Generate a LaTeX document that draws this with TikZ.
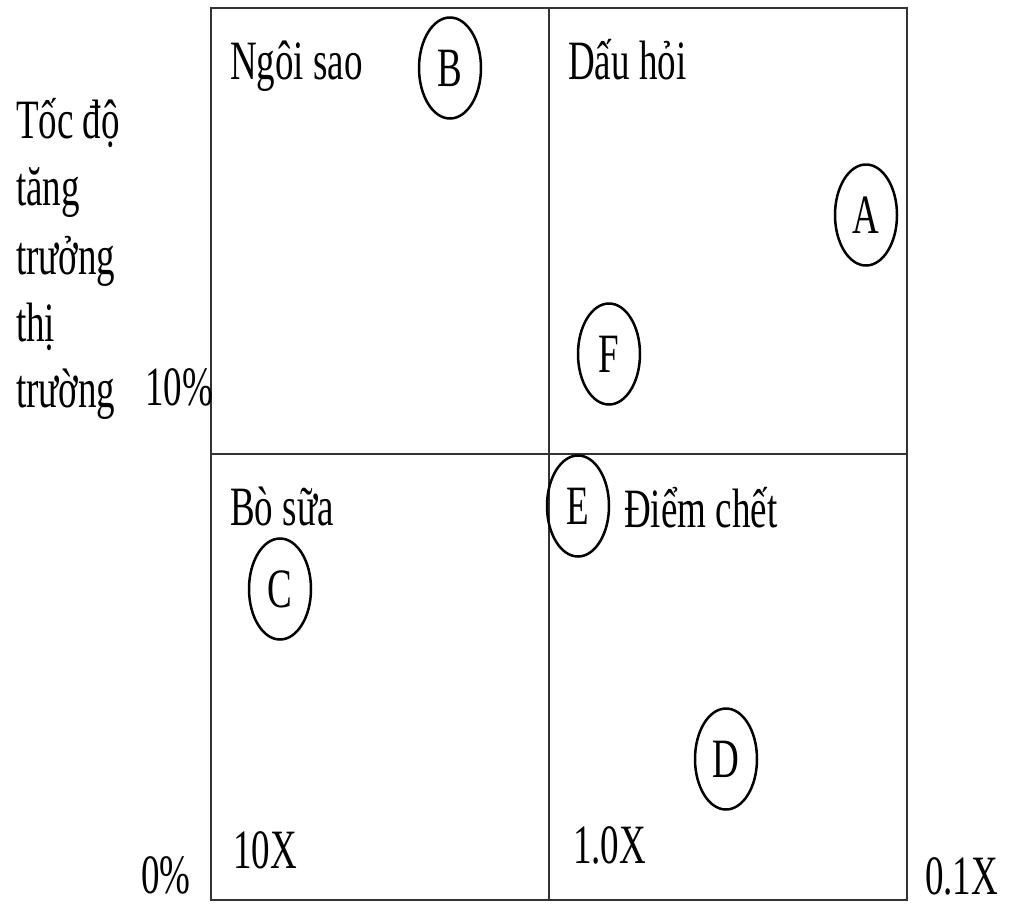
\documentclass[tikz,border=0pt]{standalone}
\usepackage{fontspec}
\usepackage{graphicx}
\setmainfont{Liberation Serif}
\usetikzlibrary{shapes.geometric}
\newcommand{\vst}[1]{\scalebox{1}[1.5]{#1}}
\begin{document}
\begin{tikzpicture}[x=1pt,y=-1pt,
  lbl/.style={anchor=base west,inner sep=0pt,font=\fontsize{37}{40}\selectfont},
  bubble/.style={ellipse,draw=black,line width=2.5pt,minimum width=62pt,minimum height=101pt,inner sep=0pt,font=\fontsize{37}{40}\selectfont},
  frame/.style={draw=black!80,line width=1.6pt}]
\useasboundingbox (0,0) rectangle (1010,903);
% frame
\coordinate (tl) at (211,8);
\coordinate (br) at (907,900);
\coordinate (mt) at (549,8);
\coordinate (mb) at (549,900);
\coordinate (ml) at (211,454);
\coordinate (mr) at (907,454);
\draw[frame] (tl) rectangle (br);
\draw[frame] (mt) -- (mb);
\draw[frame] (ml) -- (mr);
% quadrant labels
\node[lbl] (star) at (230,79) {\vst{Ngôi sao}};
\node[lbl] (quest) at (568,79) {\vst{Dấu hỏi}};
\node[lbl] (cow) at (230,525) {\vst{Bò sữa}};
\node[lbl] (dog) at (624,527) {\vst{Điểm chết}};
% axis labels
\node[lbl] (y1) at (16,138) {\vst{Tốc độ}};
\node[lbl] (y2) at (16,205) {\vst{tăng}};
\node[lbl] (y3) at (16,274) {\vst{trưởng}};
\node[lbl] (y4) at (16,341) {\vst{thị}};
\node[lbl] (y5) at (16,407) {\vst{trường}};
\node[lbl] (p10) at (145,405) {\vst{10\%}};
\node[lbl] (p0) at (141,893) {\vst{0\%}};
\node[lbl] (x10) at (233,868) {\vst{10X}};
\node[lbl] (x1) at (573,863) {\vst{1.0X}};
\node[lbl] (x01) at (925,894) {\vst{0.1X}};
% bubbles
\node[bubble] (B) at (450,68) {\vst{B}};
\node[bubble] (A) at (866,215) {\vst{A}};
\node[bubble] (F) at (609,354) {\vst{F}};
\node[bubble] (E) at (578,506) {\vst{E}};
\node[bubble] (C) at (280,589) {\vst{C}};
\node[bubble] (D) at (726,759) {\vst{D}};
\end{tikzpicture}
\end{document}
